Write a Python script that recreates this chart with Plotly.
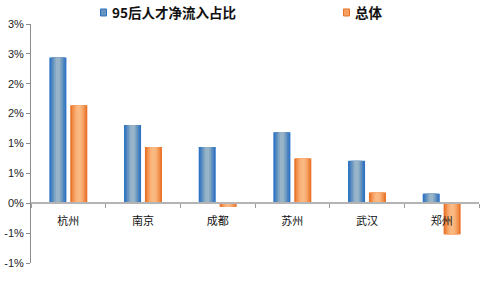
import plotly.graph_objects as go

cities = ["杭州", "南京", "成都", "苏州", "武汉", "郑州"]
gen95 = [2.44, 1.31, 0.94, 1.19, 0.71, 0.16]
overall = [1.64, 0.94, -0.06, 0.75, 0.18, -0.52]
series_names = ["95后人才净流入占比", "总体"]
tick_vals = [-1, -0.5, 0, 0.5, 1, 1.5, 2, 2.5, 3]
tick_text = ["-1%", "-1%", "0%", "1%", "1%", "2%", "2%", "3%", "3%"]

blue_layers = ["#2E73C4", "#4A83C0", "#6794BF", "#82A6C3", "#97B4C8"]
orange_layers = ["#E8722A", "#F08A45", "#F59F60", "#F8AE74", "#FAB882"]

W = 0.228
fig = go.Figure()
for vals, layers, center in [(gen95, blue_layers, -0.14), (overall, orange_layers, 0.14)]:
    n = len(layers)
    for i, col in enumerate(layers):
        w = W * (1 - i / (n + 0.3))
        fig.add_trace(go.Bar(
            x=cities, y=vals, width=[w] * len(cities), offset=[center - w / 2] * len(cities),
            marker=dict(color=col, line=dict(width=0)), showlegend=False, hoverinfo="skip"))

fig.update_layout(
    barmode="overlay",
    width=480, height=288,
    margin=dict(l=31, r=1, t=24, b=25),
    paper_bgcolor="white", plot_bgcolor="white",
    font=dict(family="Liberation Sans, Arial", size=11, color="#222"),
    xaxis=dict(
        type="category", range=[-0.5, 5.5], anchor="free", position=0.25,
        showline=True, linecolor="#B4B4B4", linewidth=2,
        ticks="outside", tickson="boundaries", ticklen=4, tickcolor="#999",
        ticklabelstandoff=8,
        tickfont=dict(family="Noto Sans CJK SC", size=11, color="#111"),
        showgrid=False, zeroline=False),
    yaxis=dict(
        range=[-1, 3], tickvals=tick_vals, ticktext=tick_text,
        showline=True, linecolor="#8C8C8C", linewidth=1,
        ticks="outside", ticklen=4, tickcolor="#8C8C8C",
        showgrid=False, zeroline=False,
        tickfont=dict(family="Liberation Sans, Arial", size=11, color="#222")),
    bargap=0.44,
)

# legend built with shapes + annotations
def px2paper(px):
    return (px - 31) / 448

legend_items = [(series_names[0], blue_layers, 100.5), (series_names[1], orange_layers, 343.5)]
for name, layers, px in legend_items:
    fig.add_shape(type="rect", xref="paper", yref="paper",
                  x0=px2paper(px), x1=px2paper(px + 6), y0=1 + (24 - 16) / 238.7, y1=1 + (24 - 9) / 238.7,
                  fillcolor=layers[2], line=dict(color=layers[0], width=1))
    fig.add_annotation(xref="paper", yref="paper", x=px2paper(px + 9), y=1 + (24 - 12.5) / 238.7,
                       text="<b>" + name + "</b>", showarrow=False, xanchor="left", yanchor="middle",
                       font=dict(family="Noto Sans CJK SC", size=13.5, color="#111"))

fig.write_html("out.html")
